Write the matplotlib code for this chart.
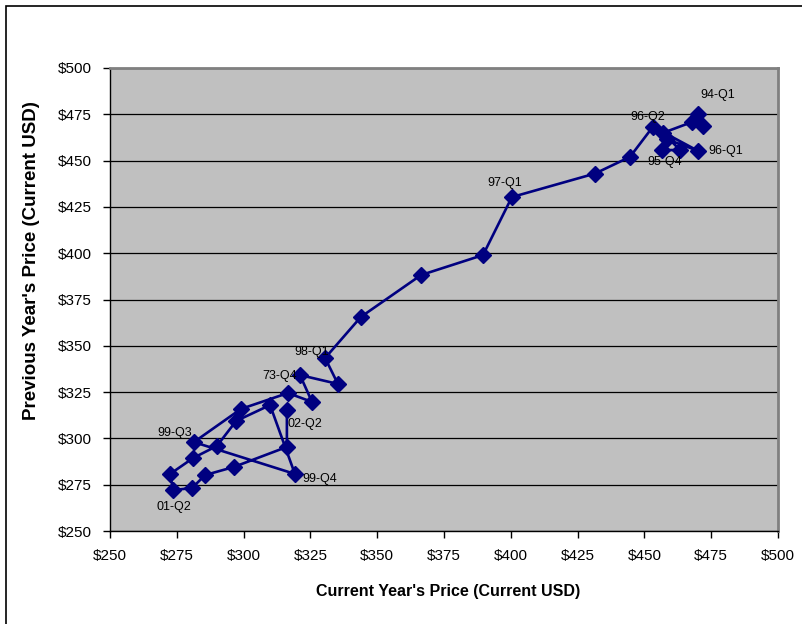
import matplotlib
matplotlib.use("Agg")
import matplotlib.pyplot as plt
from matplotlib.patches import Rectangle
from matplotlib.ticker import FuncFormatter, MultipleLocator

plt.rcParams['font.family'] = ['Liberation Sans', 'DejaVu Sans']

# quarterly points in time order: current price vs previous price
current_price = [470.1, 472.0, 467.8, 457.0, 463.3, 456.6, 458.5, 470.0, 453.2,
                 444.6, 431.5, 400.4, 389.6, 366.4, 343.9, 330.5, 335.3, 321.1,
                 325.6, 316.6, 299.0, 281.4, 319.2, 309.9, 297.2, 290.0, 281.1,
                 272.5, 273.6, 280.7, 285.6, 296.4, 316.2, 316.2]
previous_price = [475.0, 468.5, 470.8, 465.0, 455.7, 455.7, 461.5, 455.3, 468.3,
                  452.0, 443.0, 430.3, 399.0, 388.2, 365.6, 343.4, 329.4, 334.2,
                  319.7, 324.5, 315.9, 298.0, 280.8, 318.0, 309.4, 295.9, 289.4,
                  280.8, 272.1, 273.2, 280.2, 284.6, 295.4, 315.3]

# labelled points: index into the series, label text
label_idx = [0, 8, 7, 5, 11, 15, 17, 33, 21, 22, 28]
label_txt = ["94-Q1", "96-Q2", "96-Q1", "95-Q4", "97-Q1", "98-Q1", "73-Q4",
             "02-Q2", "99-Q3", "99-Q4", "01-Q2"]
# label offsets in pixels (dx, dy)
label_off = [(20, 19), (-5, 10), (28, 0), (3, -12), (-7, 14), (-13, 6),
             (-20, -1), (18, -14), (-19, 9), (25, -5), (1, -17)]

fig = plt.figure(figsize=(8.02, 6.24), dpi=100)
fig.patches.append(Rectangle((6 / 802, -0.05), 1.2, 0.05 + 1 - 6 / 624,
                             transform=fig.transFigure, fill=False,
                             edgecolor='black', linewidth=1.2))

ax = fig.add_axes([110 / 802, 1 - 531 / 624, 668 / 802, 463 / 624])
ax.set_facecolor('#C0C0C0')
ax.plot(current_price, previous_price, color='#000080', linewidth=1.9,
        marker='D', markersize=8.5, markerfacecolor='#000080',
        markeredgecolor='#000080', zorder=3)

px = 72 / 100
for i, t, (dx, dy) in zip(label_idx, label_txt, label_off):
    ax.annotate(t, (current_price[i], previous_price[i]),
                xytext=(dx * px, dy * px), textcoords='offset points',
                ha='center', va='center', fontsize=9, zorder=4)

ax.set_xlim(250, 500)
ax.set_ylim(250, 500)
ax.xaxis.set_major_locator(MultipleLocator(25))
ax.yaxis.set_major_locator(MultipleLocator(25))
fmt = FuncFormatter(lambda v, p: f'${v:,.0f}')
ax.xaxis.set_major_formatter(fmt)
ax.yaxis.set_major_formatter(fmt)
ax.grid(axis='y', color='black', linewidth=0.9)
ax.set_axisbelow(True)
ax.tick_params(direction='out', length=5, width=1, labelsize=11, pad=8)

for s in ['top', 'right']:
    ax.spines[s].set_color('#808080')
    ax.spines[s].set_linewidth(2)
for s in ['left', 'bottom']:
    ax.spines[s].set_color('black')
    ax.spines[s].set_linewidth(1)

ax.set_xlabel("Current Year's Price (Current USD)", fontsize=11.5,
              fontweight='bold')
ax.xaxis.set_label_coords(0.506, -0.115)
ax.set_ylabel("Previous Year's Price (Current USD)", fontsize=13.5,
              fontweight='bold')
ax.yaxis.set_label_coords(-0.105, 0.585)

fig.savefig('out.png', dpi=100)
